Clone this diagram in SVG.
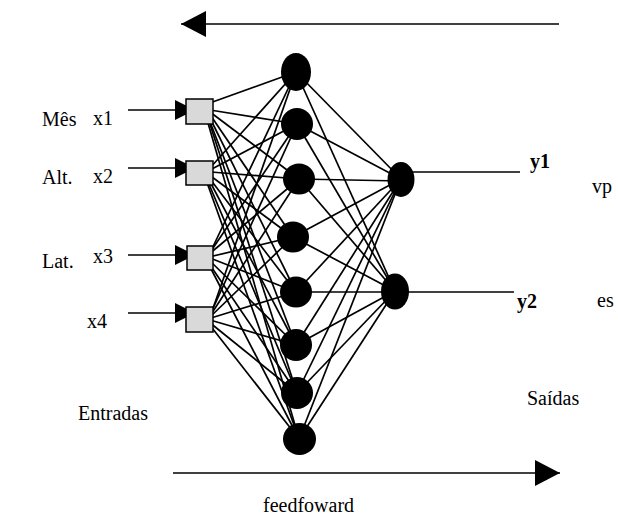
<svg xmlns="http://www.w3.org/2000/svg" width="618" height="516" viewBox="0 0 618 516">
<style>
.t{font-family:"Liberation Serif","Tinos","DejaVu Serif","Times New Roman",serif;font-size:20px;fill:#000}
.b{font-weight:bold}
.in{fill:#d9d9d9;stroke:#000;stroke-width:1.5}
.n{fill:#000}
.c line{stroke:#000;stroke-width:1.7}
.ar{stroke:#000;stroke-width:2.2}
.big{stroke:#000;stroke-width:4}
</style>
<defs>
<marker id="ah" markerUnits="userSpaceOnUse" markerWidth="22" markerHeight="22" refX="20" refY="10" orient="auto"><path d="M0,0 L20,10 L0,20 z" fill="#000"/></marker>
<marker id="bh" markerUnits="userSpaceOnUse" markerWidth="27" markerHeight="27" refX="25" refY="13" orient="auto"><path d="M0,0 L25,13 L0,26 z" fill="#000"/></marker>
</defs>
<g id="connectors" class="c">
<line x1="207" y1="104" x2="296" y2="72"/><line x1="210" y1="110" x2="297" y2="124"/><line x1="210" y1="112" x2="299" y2="179"/><line x1="209" y1="113" x2="293" y2="237"/><line x1="208" y1="114" x2="296" y2="292"/><line x1="207" y1="114" x2="296" y2="345"/><line x1="207" y1="115" x2="297" y2="393"/><line x1="206" y1="116" x2="299" y2="439"/>
<line x1="210" y1="168" x2="296" y2="72"/><line x1="210" y1="170" x2="297" y2="124"/><line x1="211" y1="172" x2="299" y2="179"/><line x1="208" y1="174" x2="293" y2="237"/><line x1="207" y1="175" x2="296" y2="292"/><line x1="207" y1="176" x2="296" y2="345"/><line x1="206" y1="177" x2="297" y2="393"/><line x1="205" y1="177" x2="299" y2="439"/>
<line x1="210" y1="253" x2="296" y2="72"/><line x1="209" y1="254" x2="297" y2="124"/><line x1="208" y1="255" x2="299" y2="179"/><line x1="209" y1="257" x2="293" y2="237"/><line x1="210" y1="258" x2="296" y2="292"/><line x1="209" y1="260" x2="296" y2="345"/><line x1="208" y1="262" x2="297" y2="393"/><line x1="208" y1="263" x2="299" y2="439"/>
<line x1="211" y1="314" x2="296" y2="72"/><line x1="210" y1="315" x2="297" y2="124"/><line x1="210" y1="316" x2="299" y2="179"/><line x1="210" y1="317" x2="293" y2="237"/><line x1="211" y1="318" x2="296" y2="292"/><line x1="210" y1="320" x2="296" y2="345"/><line x1="209" y1="322" x2="297" y2="393"/><line x1="209" y1="324" x2="299" y2="439"/>
<line x1="296" y1="72" x2="401" y2="179"/><line x1="297" y1="124" x2="401" y2="179"/><line x1="299" y1="179" x2="401" y2="181"/><line x1="293" y1="237" x2="401" y2="179"/><line x1="296" y1="292" x2="401" y2="179"/><line x1="296" y1="345" x2="401" y2="179"/><line x1="297" y1="393" x2="401" y2="179"/><line x1="299" y1="439" x2="401" y2="179"/>
<line x1="296" y1="72" x2="395" y2="291"/><line x1="297" y1="124" x2="395" y2="291"/><line x1="299" y1="179" x2="395" y2="291"/><line x1="293" y1="237" x2="395" y2="291"/><line x1="296" y1="292" x2="395" y2="292"/><line x1="296" y1="345" x2="395" y2="291"/><line x1="297" y1="393" x2="395" y2="291"/><line x1="299" y1="439" x2="395" y2="291"/>
<line x1="410" y1="172" x2="520" y2="172"/><line x1="405" y1="292" x2="514" y2="292"/>
<line class="ar" x1="128" y1="110" x2="195" y2="110" marker-end="url(#ah)"/>
<line class="ar" x1="128" y1="168" x2="195" y2="168" marker-end="url(#ah)"/>
<line class="ar" x1="128" y1="255" x2="195" y2="255" marker-end="url(#ah)"/>
<line class="ar" x1="128" y1="313" x2="195" y2="313" marker-end="url(#ah)"/>
<line class="big" x1="559" y1="24" x2="181" y2="24" marker-end="url(#bh)"/>
<line class="big" x1="173" y1="473" x2="560" y2="473" marker-end="url(#bh)"/>
</g>
<g id="in1"><rect class="in" x="186" y="99" width="27" height="25"/></g>
<g id="in2"><rect class="in" x="186" y="161" width="27" height="24"/></g>
<g id="in3"><rect class="in" x="187" y="246" width="26" height="24"/></g>
<g id="in4"><rect class="in" x="186" y="307" width="27" height="25"/></g>
<g id="h1"><ellipse class="n" cx="296" cy="72" rx="15" ry="19"/></g>
<g id="h2"><ellipse class="n" cx="297" cy="124" rx="16" ry="16"/></g>
<g id="h3"><ellipse class="n" cx="299" cy="179" rx="16" ry="15.5"/></g>
<g id="h4"><ellipse class="n" cx="293" cy="237" rx="16" ry="15.5"/></g>
<g id="h5"><ellipse class="n" cx="296" cy="292" rx="16" ry="15.5"/></g>
<g id="h6"><ellipse class="n" cx="296" cy="345" rx="16" ry="16"/></g>
<g id="h7"><ellipse class="n" cx="297" cy="393" rx="16" ry="16"/></g>
<g id="h8"><ellipse class="n" cx="299.5" cy="439" rx="16.5" ry="16"/></g>
<g id="o1"><ellipse class="n" cx="401" cy="179.5" rx="13.5" ry="17.5"/></g>
<g id="o2"><ellipse class="n" cx="395" cy="291.5" rx="14" ry="18"/></g>
<g id="labels">
<text class="t" x="42" y="126">Mês</text>
<text class="t" x="93" y="125">x1</text>
<text class="t" x="42" y="184">Alt.</text>
<text class="t" x="93" y="183">x2</text>
<text class="t" x="42" y="268">Lat.</text>
<text class="t" x="93" y="263">x3</text>
<text class="t" x="87" y="328">x4</text>
<text class="t" x="78" y="420">Entradas</text>
<text class="t b" x="530" y="168">y1</text>
<text class="t" x="592" y="193">vp</text>
<text class="t b" x="517" y="308">y2</text>
<text class="t" x="597" y="307">es</text>
<text class="t" x="527" y="405">Saídas</text>
<text class="t" x="263" y="512">feedfoward</text>
</g>
</svg>
